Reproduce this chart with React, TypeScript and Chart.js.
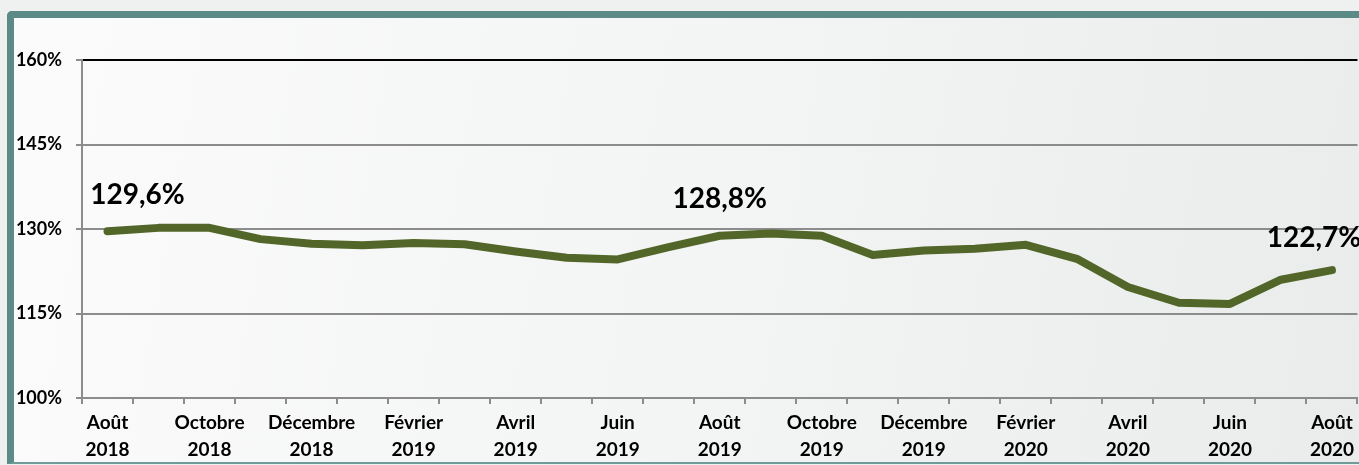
import React, { useEffect, useRef } from "react";
import { Chart, registerables } from "chart.js";

Chart.register(...registerables);

const months: string[][] = [
  ["Août", "2018"], ["Septembre", "2018"], ["Octobre", "2018"], ["Novembre", "2018"],
  ["Décembre", "2018"], ["Janvier", "2019"], ["Février", "2019"], ["Mars", "2019"],
  ["Avril", "2019"], ["Mai", "2019"], ["Juin", "2019"], ["Juillet", "2019"],
  ["Août", "2019"], ["Septembre", "2019"], ["Octobre", "2019"], ["Novembre", "2019"],
  ["Décembre", "2019"], ["Janvier", "2020"], ["Février", "2020"], ["Mars", "2020"],
  ["Avril", "2020"], ["Mai", "2020"], ["Juin", "2020"], ["Juillet", "2020"],
  ["Août", "2020"],
];

const ratio: number[] = [
  129.6, 130.2, 130.2, 128.2, 127.4, 127.1, 127.5, 127.3, 126.0, 124.9, 124.6, 126.8,
  128.8, 129.2, 128.8, 125.4, 126.2, 126.5, 127.2, 124.7, 119.7, 116.9, 116.7, 121.0,
  122.7,
];

const labelledPoints: number[] = [0, 12, 24];
const labelShift: number[][] = [[30, -36], [0, -37], [-18, -32]];

const yMin = 100;
const yMax = 160;
const yStep = 15;

const FONT = "Lato, 'Open Sans', sans-serif";

export default function App() {
  const ref = useRef<HTMLCanvasElement | null>(null);

  useEffect(() => {
    if (!ref.current) return;
    const valueLabels = {
      id: "valueLabels",
      afterDatasetsDraw(chart: any) {
        const meta = chart.getDatasetMeta(0);
        const ctx = chart.ctx;
        ctx.save();
        ctx.font = `bold 28px ${FONT}`;
        ctx.fillStyle = "#000";
        ctx.textAlign = "center";
        ctx.textBaseline = "middle";
        labelledPoints.forEach((idx, k) => {
          const el = meta.data[idx];
          const txt = ratio[idx].toFixed(1).replace(".", ",") + "%";
          ctx.fillText(txt, el.x + labelShift[k][0], el.y + labelShift[k][1]);
        });
        ctx.restore();
      },
    };

    const chart = new Chart(ref.current, {
      type: "line",
      data: {
        labels: months,
        datasets: [
          {
            data: ratio,
            borderColor: "#536629",
            borderWidth: 8,
            borderCapStyle: "round",
            borderJoinStyle: "round",
            pointRadius: 0,
            tension: 0,
            fill: false,
          },
        ],
      },
      options: {
        animation: false,
        responsive: false,
        maintainAspectRatio: false,
        layout: { padding: { top: 60, left: 0, right: 0, bottom: 0 } },
        plugins: { legend: { display: false }, tooltip: { enabled: false } },
        scales: {
          x: {
            offset: true,
            grid: {
              offset: true,
              drawOnChartArea: false,
              drawTicks: true,
              tickLength: 6,
              tickColor: "#8c8c8c",
              lineWidth: 2,
            },
            border: { color: "#8c8c8c", width: 2 },
            ticks: {
              autoSkip: false,
              maxRotation: 0,
              minRotation: 0,
              padding: 5,
              color: "#000",
              font: { family: FONT, weight: "bold", size: 19, lineHeight: 1.42 },
              callback: (_v: any, i: number) => (i % 2 === 0 ? months[i] : ""),
            },
            afterFit: (s: any) => {
              s.height = 67;
            },
          },
          y: {
            min: yMin,
            max: yMax,
            ticks: {
              stepSize: yStep,
              padding: 14,
              color: "#000",
              font: { family: FONT, weight: "bold", size: 18 },
              callback: (v: any) => v + "%",
            },
            grid: {
              color: (c: any) => (c.tick && c.tick.value === yMax ? "#000" : "#8c8c8c"),
              lineWidth: 2,
              tickLength: 6,
              tickColor: "#8c8c8c",
            },
            border: { color: "#8c8c8c", width: 2 },
            afterFit: (s: any) => {
              s.width = 82;
            },
          },
        },
      },
      plugins: [valueLabels],
    });
    return () => chart.destroy();
  }, []);

  return (
    <div
      style={{
        position: "fixed",
        left: 0,
        top: 0,
        width: 1359,
        height: 465,
        overflow: "hidden",
        background: "#eff0f0",
      }}
    >
      <div
        style={{
          position: "absolute",
          left: 7,
          top: 11,
          width: 1420,
          height: 453,
          boxSizing: "border-box",
          borderLeft: "7px solid #5b8a87",
          borderTop: "7px solid #5b8a87",
          borderBottom: "2px solid #6f9c98",
          borderTopLeftRadius: 5,
          background: "linear-gradient(100deg, #fbfbfb 0%, #f3f4f4 50%, #e9ebea 100%)",
        }}
      />
      <canvas
        ref={ref}
        width={1359}
        height={465}
        style={{ position: "absolute", left: 0, top: 0, width: 1359, height: 465 }}
      />
    </div>
  );
}
